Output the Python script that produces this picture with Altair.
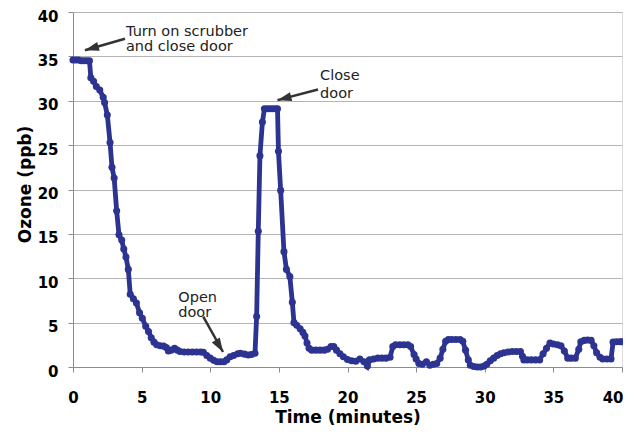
import altair as alt
import pandas as pd

# ---- data ----
time_min = [0.0, 0.2, 0.4, 0.6, 0.8, 1.0, 1.2, 1.3, 1.5, 1.7, 1.95, 2.2, 2.3, 2.5, 2.7, 2.84, 3.0, 3.18,
            3.35, 3.55, 3.7, 3.86, 4.03, 4.17, 4.4, 4.62, 4.85, 5.05, 5.3, 5.5, 5.7, 5.9, 6.1, 6.35, 6.6,
            6.8, 6.95, 7.15, 7.4, 7.6, 7.8, 8.1, 8.4, 8.7, 9.0, 9.3, 9.5, 9.75, 10.0, 10.25, 10.5, 10.75,
            11.0, 11.2, 11.45, 11.7, 12.0, 12.2, 12.5, 12.77, 13.0, 13.26, 13.38, 13.5, 13.62, 13.8, 13.95,
            14.15, 14.35, 14.55, 14.75, 14.9, 14.97, 15.13, 15.37, 15.55, 15.8, 15.98, 16.1, 16.3, 16.55,
            16.75, 16.9, 17.05, 17.2, 17.4, 17.7, 18.0, 18.3, 18.55, 18.8, 19.0, 19.2, 19.45, 19.7, 20.0,
            20.3, 20.6, 20.9, 21.2, 21.45, 21.6, 21.9, 22.2, 22.5, 22.8, 23.1, 23.3, 23.5, 23.8, 24.1, 24.4,
            24.6, 24.85, 25.0, 25.2, 25.45, 25.75, 26.0, 26.25, 26.5, 26.75, 26.95, 27.15, 27.35, 27.6,
            27.9, 28.2, 28.4, 28.6, 28.8, 28.95, 29.2, 29.45, 29.7, 29.95, 30.15, 30.4, 30.65, 30.9, 31.15,
            31.4, 31.7, 32.0, 32.3, 32.6, 32.75, 32.85, 33.1, 33.4, 33.7, 34.0, 34.25, 34.5, 34.75, 35.0,
            35.3, 35.55, 35.8, 36.05, 36.3, 36.6, 36.85, 37.0, 37.25, 37.5, 37.75, 37.95, 38.15, 38.4,
            38.6, 38.9, 39.2, 39.35, 39.6, 39.85, 40.0]
ozone_ppb = [34.6, 34.6, 34.6, 34.5, 34.5, 34.5, 34.5, 32.6, 32.2, 31.6, 31.2, 30.4, 29.8, 28.4, 25.3, 22.5,
             21.3, 17.6, 14.9, 14.3, 13.3, 12.4, 11.0, 8.2, 7.7, 7.2, 6.1, 5.5, 4.6, 4.0, 3.3, 2.8, 2.5,
             2.4, 2.35, 2.2, 1.8, 1.9, 2.1, 1.9, 1.75, 1.7, 1.7, 1.7, 1.7, 1.7, 1.65, 1.3, 1.0, 0.75, 0.6,
             0.6, 0.6, 0.8, 1.15, 1.3, 1.5, 1.55, 1.45, 1.35, 1.4, 1.55, 5.7, 15.3, 23.8, 27.6, 29.1, 29.1,
             29.1, 29.1, 29.1, 29.1, 24.3, 19.9, 13.0, 11.0, 10.2, 7.3, 5.0, 4.7, 4.3, 3.9, 3.5, 2.7, 2.1,
             1.9, 1.9, 1.9, 1.9, 2.0, 2.3, 2.3, 1.9, 1.5, 1.15, 0.85, 0.7, 0.65, 0.9, 0.6, 0.1, 0.8, 0.9,
             1.0, 1.0, 1.0, 1.1, 2.3, 2.5, 2.5, 2.5, 2.5, 2.3, 1.4, 0.9, 0.4, 0.3, 0.6, 0.2, 0.3, 0.4, 1.0,
             2.0, 2.9, 3.1, 3.1, 3.1, 3.1, 2.9, 1.9, 0.8, 0.2, 0.05, 0.0, 0.0, 0.1, 0.3, 0.7, 1.0, 1.3, 1.5,
             1.6, 1.7, 1.75, 1.75, 1.75, 1.2, 0.8, 0.8, 0.8, 0.8, 0.8, 1.5, 2.1, 2.7, 2.6, 2.5, 2.4, 1.8,
             1.0, 1.0, 1.0, 2.0, 2.85, 3.0, 3.05, 3.0, 2.4, 1.6, 1.1, 0.9, 0.9, 0.9, 2.8, 2.85, 2.85, 2.85]

x_ticks = [0, 5, 10, 15, 20, 25, 30, 35, 40]
y_ticks = [0, 5, 10, 15, 20, 25, 30, 35, 40]

# annotation texts and arrows (data coordinates)
note_text = ["Turn on scrubber", "and close door", "Close", "door", "Open", "door"]
note_x = [3.86, 3.86, 18.0, 18.0, 7.67, 7.67]
note_y = [37.27, 35.58, 32.3, 30.35, 7.37, 5.68]

arrow_x = [3.79, 17.85, 9.49]
arrow_y = [36.98, 31.26, 5.68]
arrow_x2 = [0.87, 14.9, 10.93]
arrow_y2 = [35.69, 30.07, 1.69]
arrow_angle = [254.1, 255.5, 149.0]

df = pd.DataFrame({"t": time_min, "o": ozone_ppb})
notes = pd.DataFrame({"x": note_x, "y": note_y, "txt": note_text})
arrows = pd.DataFrame({"x": arrow_x, "y": arrow_y, "x2": arrow_x2, "y2": arrow_y2, "ang": arrow_angle})

FONT = "DejaVu Sans"
BLUE = "#2c3391"

xs = alt.Scale(domain=[0, 40], nice=False, zero=False)
ys = alt.Scale(domain=[0, 40], nice=False)

x_axis = alt.Axis(values=x_ticks, grid=False, domainColor="#8c8c8c", tickColor="#8c8c8c", tickSize=5,
                  labelFont=FONT, labelFontWeight="bold", labelFontSize=15, labelColor="black",
                  labelPadding=18, labelFlush=False,
                  labelAlign={"condition": {"test": "datum.value == 40", "value": "right"}, "value": "center"},
                  labelOffset={"condition": {"test": "datum.value == 40", "value": 1}, "value": 0},
                  title="Time (minutes)", titleFont=FONT,
                  titleFontWeight="bold", titleFontSize=17, titleColor="black",
                  titleBaseline="alphabetic", titleY=55)
y_axis = alt.Axis(values=y_ticks, grid=True, gridColor="#b4b4b4", domainColor="#8c8c8c",
                  tickColor="#8c8c8c", tickSize=5, labelFont=FONT, labelFontWeight="bold",
                  labelFontSize=15, labelColor="black", labelPadding=10, labelFlush=False,
                  labelOffset=4,
                  title="Ozone (ppb)", titleFont=FONT, titleFontWeight="bold", titleFontSize=17,
                  titleColor="black", titleAngle=270, titleAlign="center", titleBaseline="middle",
                  titleX=-48, titleY=172)

base = alt.Chart(df)
line = base.mark_line(color=BLUE, strokeWidth=4.8).encode(
    x=alt.X("t:Q", scale=xs, axis=x_axis),
    y=alt.Y("o:Q", scale=ys, axis=y_axis),
)
pts = base.mark_circle(color=BLUE, size=50, opacity=1).encode(
    x=alt.X("t:Q", scale=xs), y=alt.Y("o:Q", scale=ys)
)

txt = alt.Chart(notes).mark_text(font=FONT, fontSize=14.5, color="#222222", align="left",
                                 baseline="alphabetic").encode(
    x=alt.X("x:Q", scale=xs), y=alt.Y("y:Q", scale=ys), text="txt:N"
)

shafts = alt.Chart(arrows).mark_rule(color="#333333", strokeWidth=2.5).encode(
    x=alt.X("x:Q", scale=xs), y=alt.Y("y:Q", scale=ys), x2="x2:Q", y2="y2:Q"
)
heads = alt.Chart(arrows).mark_point(shape="M0,0L-0.33,1L0.33,1Z", filled=True, size=784,
                                     color="#333333", opacity=1).encode(
    x=alt.X("x2:Q", scale=xs), y=alt.Y("y2:Q", scale=ys), angle=alt.Angle("ang:Q", scale=None)
)

chart = alt.layer(line, pts, shafts, heads, txt).properties(
    width=549, height=355,
    padding={"left": 65, "top": 4, "right": 1, "bottom": 59},
    autosize=alt.AutoSizeParams(type="none"),
).configure_view(stroke=None).configure(background="white")

chart.save("out.html", embed_options={"renderer": "svg", "actions": False})
